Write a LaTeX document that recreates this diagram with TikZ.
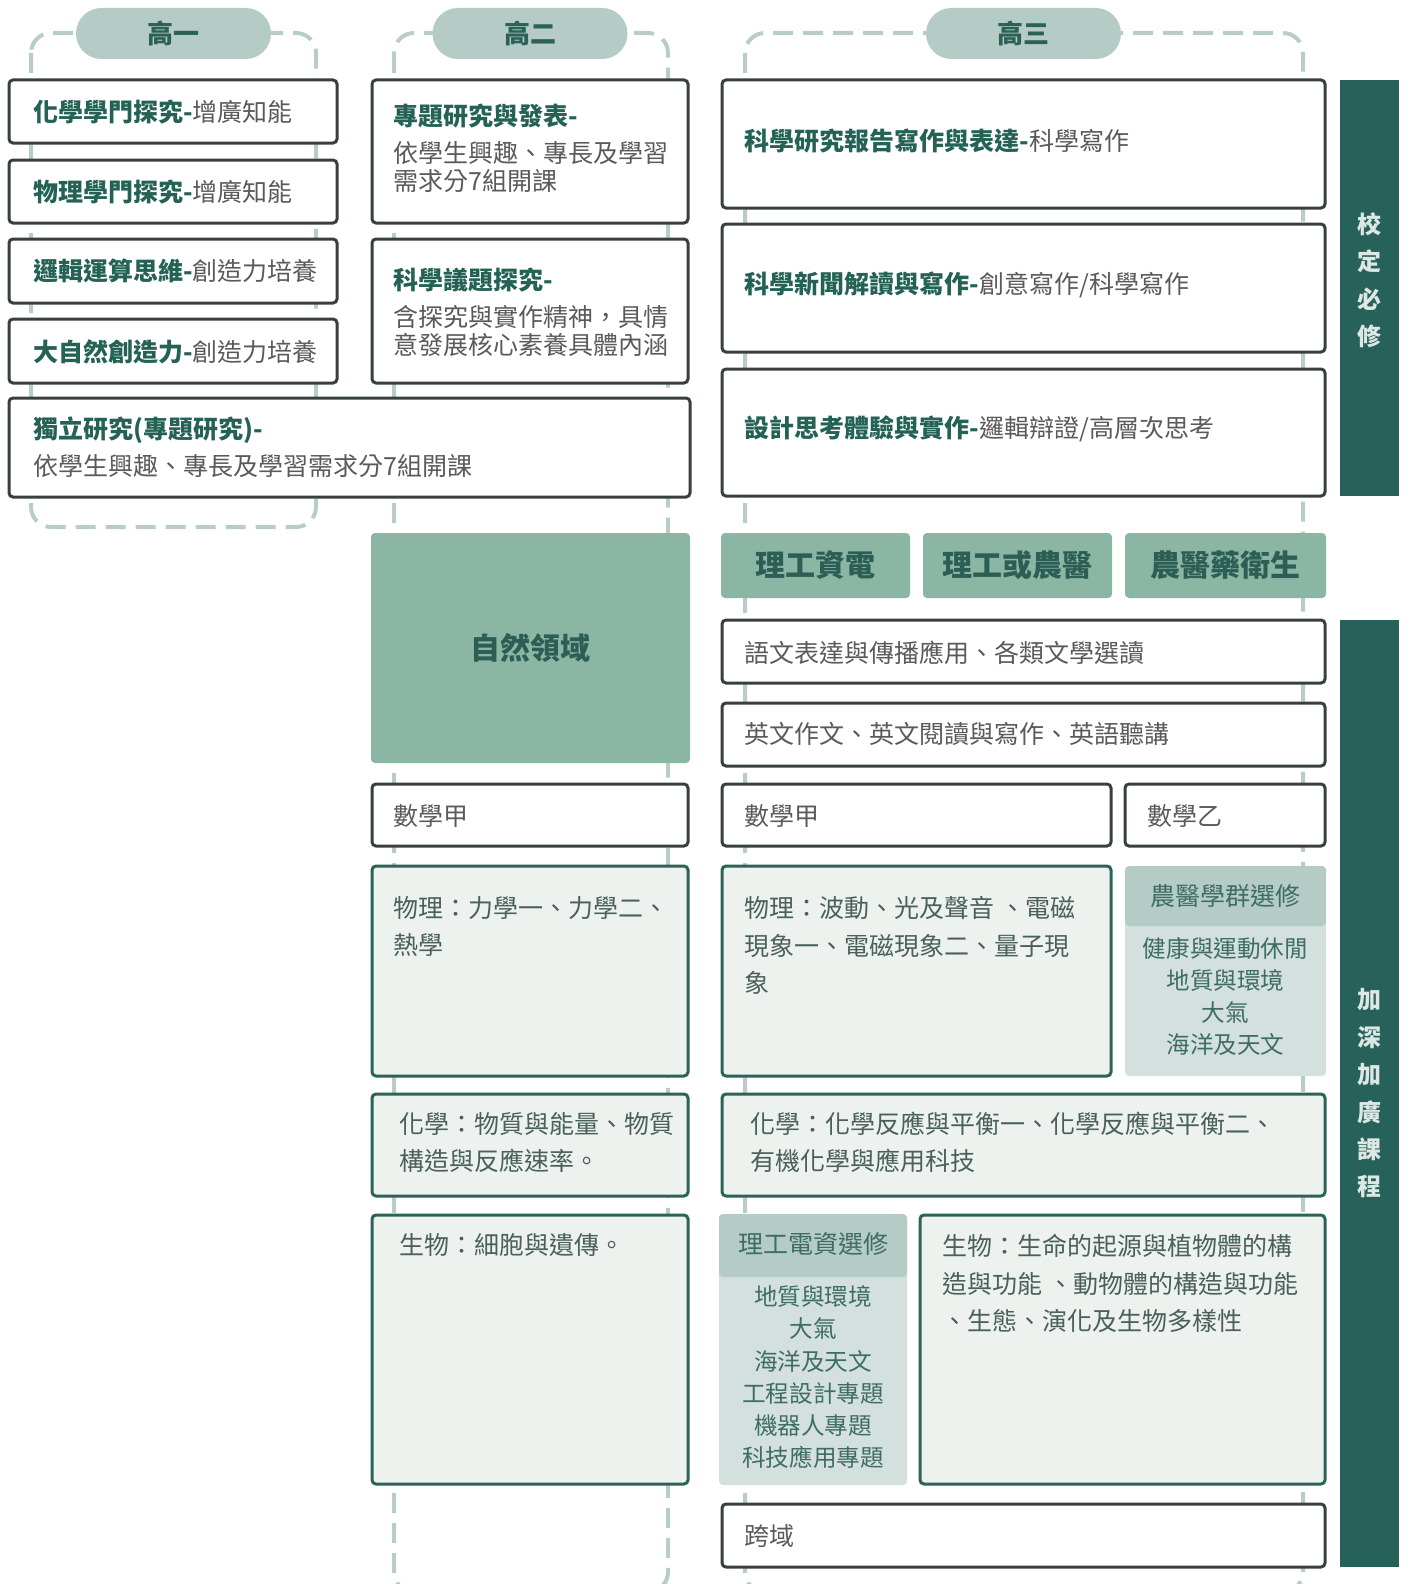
\documentclass[tikz,border=0pt]{standalone}
\usepackage{fontspec}
\setmainfont{Noto Sans CJK TC}
\usetikzlibrary{fit}

\definecolor{barc}{HTML}{27625A}
\definecolor{framec}{HTML}{B8CDC8}
\definecolor{pillc}{HTML}{B5CBC6}
\definecolor{pilltxt}{HTML}{2B6157}
\definecolor{tagc}{HTML}{8BB6A3}
\definecolor{tagtxt}{HTML}{2D5E55}
\definecolor{boxline}{HTML}{373F42}
\definecolor{gline}{HTML}{2C6359}
\definecolor{gfill}{HTML}{EDF2EF}
\definecolor{elhead}{HTML}{B5CBC6}
\definecolor{elbody}{HTML}{D3E0DD}
\definecolor{eltxtc}{HTML}{3E6D66}
\definecolor{tgreen}{HTML}{236255}
\definecolor{tgrey}{HTML}{5A5A5A}
\definecolor{ptxtc}{HTML}{4A605C}
\definecolor{bartxtc}{HTML}{DDE7E4}

\newcommand\subj[1]{{\bfseries\color{tgreen}#1}}

\tikzset{
  frame/.style={draw=framec, line width=2pt, dash pattern=on 10pt off 5pt, rounded corners=10pt},
  pill/.style={fill=pillc, text=pilltxt, font=\fontsize{13}{13}\selectfont\bfseries,
    minimum width=97.5pt, minimum height=25.5pt, rounded corners=12.7pt},
  wbox/.style={draw=boxline, line width=1.5pt, fill=white, rounded corners=2pt, inner sep=0pt},
  gbox/.style={draw=gline, line width=1.5pt, fill=gfill, rounded corners=2pt, inner sep=0pt},
  tagbox/.style={fill=tagc, text=tagtxt, rounded corners=2pt, inner sep=0pt,
    font=\fontsize{15}{15}\selectfont\bfseries},
  bar/.style={fill=barc, inner sep=0pt},
  txt/.style={anchor=west, inner sep=0pt, align=left, text=tgrey, font=\fontsize{12.5}{18.7}\selectfont},
  ptxt/.style={txt, text=ptxtc},
  eltxt/.style={inner sep=0pt, align=center, text=eltxtc, font=\fontsize{11.8}{16.1}\selectfont},
  bartxt/.style={inner sep=0pt, align=center, text=bartxtc, font=\fontsize{12}{18.7}\selectfont\bfseries},
}

\begin{document}
\begin{tikzpicture}[x=0.5pt,y=-0.5pt]
  \useasboundingbox (0,0) rectangle (1408,1584);
  \clip (0,0) rectangle (1408,1584);

  % year frames
  \draw[frame] (31,33) rectangle (316,527);
  \draw[frame] (394,33) rectangle (668,1592);
  \draw[frame] (745,33) rectangle (1303,1592);
  \node[pill] (y1) at (173.5,33.5) {高一};
  \node[pill] (y2) at (530,33.5) {高二};
  \node[pill] (y3) at (1023.5,33.5) {高三};

  % side bars
  \node[bar, fit={(1340,80) (1399,496)}] (req) {};
  \node[bartxt] (reqt) at (1369,280.2) {校\\定\\必\\修};
  \node[bar, fit={(1340,620) (1399,1567)}] (adv) {};
  \node[bartxt] (advt) at (1369,1093.5) {加\\深\\加\\廣\\課\\程};

  % grade 10
  \node[wbox, fit={(9,80) (337,143)}] (chem1) {};
  \node[txt] (chem1t) at (33,112) {\subj{化學學門探究-}增廣知能};
  \node[wbox, fit={(9,160) (337,223)}] (phy1) {};
  \node[txt] (phy1t) at (33,192) {\subj{物理學門探究-}增廣知能};
  \node[wbox, fit={(9,239) (337,303)}] (logic) {};
  \node[txt] (logict) at (33,271) {\subj{邏輯運算思維-}創造力培養};
  \node[wbox, fit={(9,319) (337,383)}] (nature) {};
  \node[txt] (naturet) at (33,351.5) {\subj{大自然創造力-}創造力培養};
  \node[wbox, fit={(9,398) (690,497)}] (indep) {};
  \node[txt] (indept) at (33,447.5) {\subj{獨立研究(專題研究)-}\\依學生興趣、專長及學習需求分7組開課};

  % grade 11
  \node[wbox, fit={(372,80) (688,223)}] (topic) {};
  \node[txt, font=\fontsize{12.5}{14}\selectfont] (topict) at (393,148.5)
    {\subj{專題研究與發表-}\\[4.5pt]依學生興趣、專長及學習\\需求分7組開課};
  \node[wbox, fit={(372,239) (688,383)}] (issue) {};
  \node[txt, font=\fontsize{12.5}{14}\selectfont] (issuet) at (393,312)
    {\subj{科學議題探究-}\\[4.5pt]含探究與實作精神，具情\\意發展核心素養具體內涵};
  \node[tagbox, fit={(371,533) (690,763)}] (field) {};
  \node[tagbox] (fieldt) at (530,647.5) {自然領域};
  \node[wbox, fit={(372,784) (688,846)}] (math2) {};
  \node[txt] (math2t) at (393,816) {數學甲};
  \node[gbox, fit={(372,866) (688,1076)}] (phy2) {};
  \node[ptxt] (phy2t) at (393,926.75) {物理：力學一、力學二、\\熱學};
  \node[gbox, fit={(372,1094) (688,1196)}] (chem2) {};
  \node[ptxt] (chem2t) at (399,1142.3) {化學：物質與能量、物質\\構造與反應速率。};
  \node[gbox, fit={(372,1215) (688,1484)}] (bio2) {};
  \node[ptxt] (bio2t) at (399,1245.5) {生物：細胞與遺傳。};

  % grade 12
  \node[wbox, fit={(722,80) (1325,208)}] (report) {};
  \node[txt] (reportt) at (744.5,141) {\subj{科學研究報告寫作與表達-}科學寫作};
  \node[wbox, fit={(722,224) (1325,352)}] (news) {};
  \node[txt] (newst) at (744.5,285) {\subj{科學新聞解讀與寫作-}創意寫作/科學寫作};
  \node[wbox, fit={(722,369) (1325,496)}] (design) {};
  \node[txt] (designt) at (744.5,429) {\subj{設計思考體驗與實作-}邏輯辯證/高層次思考};
  \node[tagbox, fit={(721,533) (910,598)}] (engi) {};
  \node[tagbox] (engit) at (815.5,565) {理工資電};
  \node[tagbox, fit={(923,533) (1112,598)}] (either) {};
  \node[tagbox] (eithert) at (1017.5,565) {理工或農醫};
  \node[tagbox, fit={(1125,533) (1326,598)}] (med) {};
  \node[tagbox] (medt) at (1225.5,565) {農醫藥衛生};
  \node[wbox, fit={(722,620) (1325,683)}] (chin) {};
  \node[txt] (chint) at (744.5,652.5) {語文表達與傳播應用、各類文學選讀};
  \node[wbox, fit={(722,703) (1325,766)}] (eng) {};
  \node[txt] (engt) at (744.5,734) {英文作文、英文閱讀與寫作、英語聽講};
  \node[wbox, fit={(722,784) (1111,846)}] (matha) {};
  \node[txt] (mathat) at (744.5,816) {數學甲};
  \node[wbox, fit={(1125,784) (1325,846)}] (mathb) {};
  \node[txt] (mathbt) at (1147.5,816) {數學乙};
  \node[gbox, fit={(722,866) (1111,1076)}] (phy3) {};
  \node[ptxt] (phy3t) at (744.5,945.5) {物理：波動、光及聲音 、電磁\\現象一、電磁現象二、量子現\\象};
  \fill[elbody, rounded corners=2pt] (1125,866) rectangle (1326,1076);
  \fill[elhead, rounded corners=2pt] (1125,866) rectangle (1326,926);
  \node[eltxt, font=\fontsize{12.5}{12.5}\selectfont] (medel) at (1225.5,896) {農醫學群選修};
  \node[eltxt] (medelt) at (1225.5,996.5) {健康與運動休閒\\地質與環境\\大氣\\海洋及天文};
  \node[gbox, fit={(722,1094) (1325,1196)}] (chem3) {};
  \node[ptxt] (chem3t) at (750.5,1142.3) {化學：化學反應與平衡一、化學反應與平衡二、\\有機化學與應用科技};
  \fill[elbody, rounded corners=2pt] (719,1214) rectangle (907,1485);
  \fill[elhead, rounded corners=2pt] (719,1214) rectangle (907,1277);
  \node[eltxt, font=\fontsize{12.5}{12.5}\selectfont] (engel) at (813,1243.5) {理工電資選修};
  \node[eltxt] (engelt) at (813,1377.3) {地質與環境\\大氣\\海洋及天文\\工程設計專題\\機器人專題\\科技應用專題};
  \node[gbox, fit={(920,1215) (1325,1484)}] (bio3) {};
  \node[ptxt] (bio3t) at (942.5,1283.5) {生物：生命的起源與植物體的構\\造與功能 、動物體的構造與功能\\、生態、演化及生物多樣性};
  \node[wbox, fit={(722,1504) (1325,1567)}] (cross) {};
  \node[txt] (crosst) at (744.5,1536.4) {跨域};
\end{tikzpicture}
\end{document}
